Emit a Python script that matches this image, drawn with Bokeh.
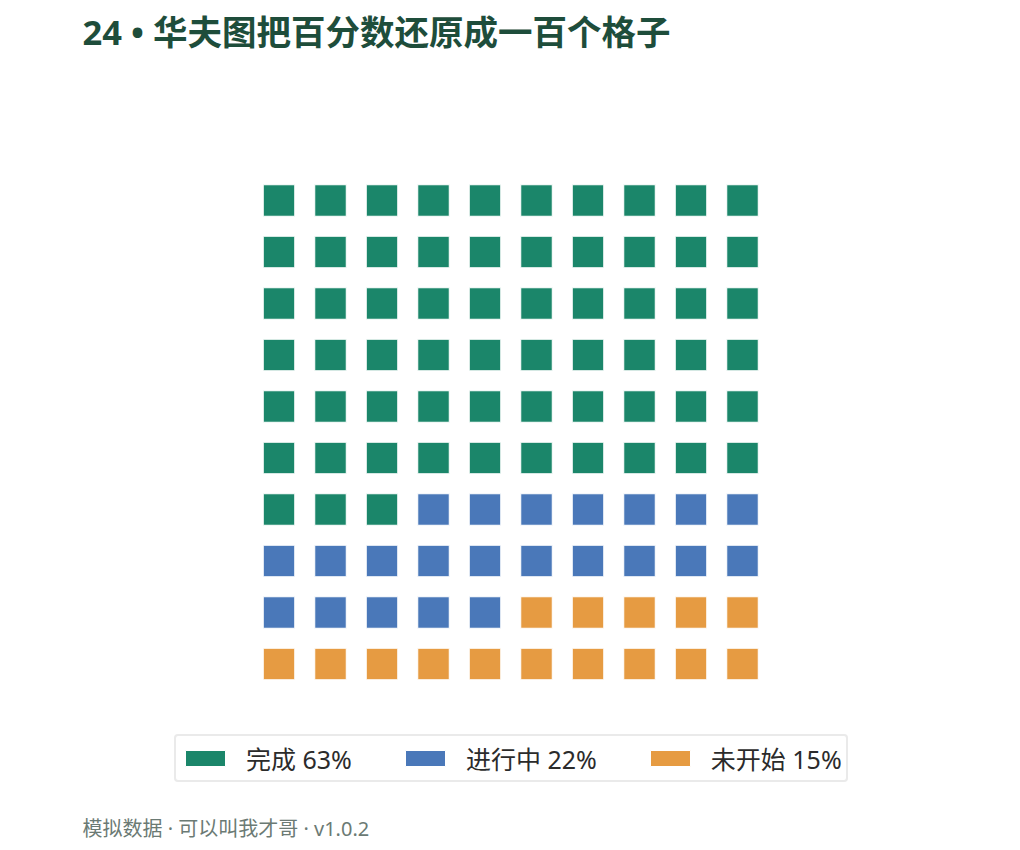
from bokeh.plotting import figure
from bokeh.models import ColumnDataSource, Range1d, Label, Legend, LegendItem
from bokeh.embed import file_html
from bokeh.resources import INLINE

# waffle data: 100 cells split by status
categories = ["完成", "进行中", "未开始"]
percents = [63, 22, 15]
colors = ["#1b866a", "#4a78b9", "#e69b42"]
n_cols = 10
n_rows = 10

title_text = "24 • 华夫图把百分数还原成一百个格子"
footer_text = "模拟数据 · 可以叫我才哥 · v1.0.2"

FONT = "Noto Sans, Noto Sans CJK SC"
W, H = 1012, 842
pitch = 51.5
x0, y0 = 278.5, 200.0   # screen centre of the top-left cell

p = figure(width=W, height=H, output_backend="svg", toolbar_location=None,
           min_border=0, x_axis_type=None, y_axis_type=None)
p.outline_line_color = None
p.grid.visible = False
p.background_fill_color = "white"
p.border_fill_color = "white"
p.x_range = Range1d(-x0 / pitch, (W - x0) / pitch)
p.y_range = Range1d((H - y0) / pitch, -y0 / pitch)   # row 0 on top

items = []
start = 0
for cat, pct, col in zip(categories, percents, colors):
    idx = list(range(start, start + pct))
    start += pct
    src = ColumnDataSource(dict(col=[i % n_cols for i in idx],
                                row=[i // n_cols for i in idx]))
    r = p.rect(x="col", y="row", width=31.5, height=31.5,
               width_units="screen", height_units="screen", source=src,
               fill_color=col, line_color="white", line_width=1)
    items.append(LegendItem(label=f"{cat} {pct}%", renderers=[r]))

legend = Legend(items=items, orientation="horizontal", location=(174, 60),
                glyph_width=50, glyph_height=20, label_standoff=16, spacing=48,
                padding=4, margin=0,
                label_text_font=FONT, label_text_font_size="25px",
                label_text_color="#2b2b2b",
                border_line_color="#d6d6d6", border_line_width=2,
                border_radius=4, background_fill_color="white", background_fill_alpha=1)
p.add_layout(legend, "center")

p.add_layout(Label(x=82, y=H - 7, x_units="screen", y_units="screen",
                   text=title_text, text_font=FONT,
                   text_font_size="34.5px", text_font_style="bold",
                   text_color="#1e4d3b", text_baseline="top"))
p.add_layout(Label(x=82, y=1, x_units="screen", y_units="screen",
                   text=footer_text, text_font=FONT,
                   text_font_size="20px", text_color="#6b7a74",
                   text_baseline="bottom"))

open("out.html", "w").write(file_html(p, INLINE))
